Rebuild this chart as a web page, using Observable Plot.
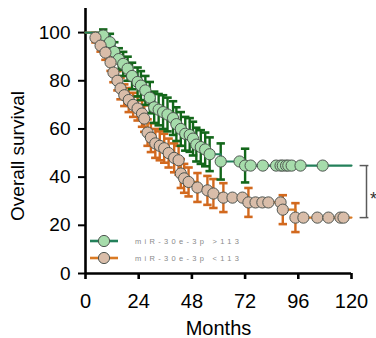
<!DOCTYPE html>
<html>
<head>
<meta charset="utf-8">
<script src="https://cdn.jsdelivr.net/npm/d3@7"></script>
<script src="https://cdn.jsdelivr.net/npm/@observablehq/plot@0.6"></script>
<style>
  html, body { margin: 0; padding: 0; background: #fff; }
  #wrap { position: relative; width: 376px; height: 338px; overflow: hidden; font-family: "Liberation Sans", Arial, sans-serif; }
  #legend { position: absolute; left: 0; top: 0; pointer-events: none; }
</style>
</head>
<body>
<div id="wrap"></div>
<script>
// ---- data ----
const xTicks = [0, 24, 48, 72, 96, 120];
const yTicks = [0, 20, 40, 60, 80, 100];
const seriesNames = ["miR-30e-3p >113", "miR-30e-3p <113"];

// high group (green)
const gMonths = [0, 8, 11, 13, 15, 17, 19, 21, 23.5, 25, 27, 29, 31, 33, 35, 37, 39.5, 41, 43, 45,
                 47, 48.5, 50, 52, 54, 56, 61, 69.5, 72, 74.5, 80, 86, 88, 89, 90.5, 91.5, 93, 97, 107, 120];
const gSurv   = [100, 98.8, 96, 92, 89, 87, 85, 82, 79.5, 78, 76, 73, 69, 68, 67, 66, 64.5, 62, 60, 58,
                 57.5, 56, 53.5, 52.5, 51.5, 49.5, 46.5, 46.5, 44.8, 44.8, 44.8, 44.8, 44.8, 44.8, 44.8, 44.8, 44.8, 44.8, 44.8, 44.8];
const gErr    = [0, 2.5, 3.5, 4, 4.5, 5, 5, 5.5, 6, 6, 6, 6.5, 6.5, 6.5, 7, 7, 7, 7, 7, 7,
                 7, 7, 7, 7, 7, 7, 7.5, 0, 7, 0, 0, 0, 0, 0, 0, 0, 0, 0, 0, 0];

// low group (orange)
const oMonths = [0, 4.5, 6.8, 9, 11.3, 12.6, 14.4, 15.8, 17.5, 19.5, 21.5, 23.5, 25.5, 26.5, 28, 29.5, 31.5, 33.5, 35.5, 37.5,
                 40, 42, 43, 44.5, 46.5, 50.5, 55, 57.7, 62.2, 66.3, 70.8, 73.5, 76.7, 79.8, 82.5, 88, 89, 94.7, 98.3, 104.6,
                 109.6, 115, 116.4, 120];
const oSurv   = [100, 97.9, 94.6, 91.7, 87.6, 83.4, 80, 76.8, 74, 72, 70, 68.5, 66.4, 64.3, 58.5, 56.4, 54, 53, 52, 50,
                 48, 47, 41.5, 39.5, 38, 35.7, 34.5, 33.2, 31.5, 31.5, 31.5, 29.5, 29.5, 29.5, 29.5, 29.5, 26.5, 23.2, 23.2, 23.2,
                 23.2, 23.2, 23.2, 23.2];
const oErr    = [0, 2, 2.5, 3, 3.5, 4, 4, 4.5, 4.5, 5, 5, 5, 5.5, 5.5, 5.5, 6, 6, 6, 6, 6,
                 6, 6, 6, 6, 6, 6, 6, 6, 6, 0, 0, 6, 0, 0, 0, 0, 6, 6, 0, 0,
                 0, 0, 0, 0];

// ---- build tables ----
const toRows = (m, s, e) => m.map((v, i) => ({month: v, surv: s[i], err: e[i], i, n: m.length}));
const green = toRows(gMonths, gSurv, gErr);
const orange = toRows(oMonths, oSurv, oErr);
const markers = rows => rows.filter(d => d.i > 0 && d.i < d.n - 1);
const bars = rows => rows.filter(d => d.err > 0);

const colors = {
  gLine: "#23805a", gBar: "#13671a", gFill: "#a6dcab",
  oLine: "#d97a24", oBar: "#d2691e", oFill: "#d9bda9",
  stroke: "#4e5550"
};

const capSymbol = {
  draw(context, size) {
    const w = Math.sqrt(size / Math.PI);
    context.moveTo(-w, 0);
    context.lineTo(w, 0);
  }
};

const errMarks = (rows, color) => [
  Plot.ruleX(bars(rows), {x: "month", y1: d => d.surv - d.err, y2: d => d.surv + d.err, stroke: color, strokeWidth: 2.4}),
  Plot.dot(bars(rows), {x: "month", y: d => d.surv + d.err, symbol: capSymbol, r: 4.2, stroke: color, strokeWidth: 2.6}),
  Plot.dot(bars(rows), {x: "month", y: d => d.surv - d.err, symbol: capSymbol, r: 4.2, stroke: color, strokeWidth: 2.6})
];

const xEnd = gMonths[gMonths.length - 1];
const gEnd = gSurv[gSurv.length - 1];
const oEnd = oSurv[oSurv.length - 1];
const bracket = [{x: xEnd, top: gEnd, bottom: oEnd}];

const chart = Plot.plot({
  width: 376,
  height: 338,
  marginLeft: 85,
  marginRight: 25,
  marginTop: 8,
  marginBottom: 65,
  style: {fontFamily: "'Liberation Sans', Arial, sans-serif", fontSize: "19px", color: "#000", background: "#fff"},
  x: {domain: [0, 120]},
  y: {domain: [0, 110]},
  marks: [
    // axes
    Plot.axisX({ticks: xTicks, tickSize: 6, tickPadding: 14, strokeWidth: 2.6, fontSize: 20, label: null, tickFormat: d => String(d)}),
    Plot.axisY({ticks: yTicks, tickSize: 7, tickPadding: 8, strokeWidth: 2, fontSize: 19, label: null, tickFormat: d => String(d)}),
    Plot.ruleY([0], {x1: xTicks[0], x2: xTicks[xTicks.length - 1], stroke: "#000", strokeWidth: 2.6}),
    Plot.ruleX([0], {y1: 0, y2: 110, stroke: "#000", strokeWidth: 2.6}),
    // error bars
    ...errMarks(orange, colors.oBar),
    ...errMarks(green, colors.gBar),
    // survival curves
    Plot.line(orange, {x: "month", y: "surv", curve: "step-after", stroke: colors.oLine, strokeWidth: 2.2}),
    Plot.line(green, {x: "month", y: "surv", curve: "step-after", stroke: colors.gLine, strokeWidth: 2.2}),
    // markers
    Plot.dot(markers(green), {x: "month", y: "surv", r: 5.6, fill: colors.gFill, stroke: colors.stroke, strokeWidth: 1}),
    Plot.dot(markers(orange), {x: "month", y: "surv", r: 5.6, fill: colors.oFill, stroke: colors.stroke, strokeWidth: 1}),
    // significance bracket
    Plot.ruleX(bracket, {x: "x", y1: "bottom", y2: "top", dx: 15, stroke: "#5a5a5a", strokeWidth: 1.5}),
    Plot.dot(bracket, {x: "x", y: "top", dx: 12.5, symbol: capSymbol, r: 4.4, stroke: "#5a5a5a", strokeWidth: 1.5}),
    Plot.dot(bracket, {x: "x", y: "bottom", dx: 12.5, symbol: capSymbol, r: 4.4, stroke: "#5a5a5a", strokeWidth: 1.5}),
    Plot.text(bracket, {x: "x", y: d => (d.top + d.bottom) / 2, dx: 22, dy: 8, text: () => "*", fontSize: 18, fill: "#333"}),
    // axis titles
    Plot.text(["Months"], {frameAnchor: "bottom", textAnchor: "middle", lineAnchor: "middle", dy: 55, text: d => d, fontSize: 20}),
    Plot.text(["Overall survival"], {frameAnchor: "left", textAnchor: "middle", lineAnchor: "middle", rotate: -90, dx: -68, dy: 15, text: d => d, fontSize: 19})
  ]
});

const wrap = document.getElementById("wrap");
wrap.appendChild(chart);

// legend overlay (inside the plot area, lower left)
const ns = "http://www.w3.org/2000/svg";
const leg = document.createElementNS(ns, "svg");
leg.setAttribute("id", "legend");
leg.setAttribute("width", 376);
leg.setAttribute("height", 338);
const legendItems = [
  {label: seriesNames[0], line: colors.gLine, fill: colors.gFill},
  {label: seriesNames[1], line: colors.oLine, fill: colors.oFill}
];
legendItems.forEach((it, k) => {
  const cy = 241 + k * 17;
  const ln = document.createElementNS(ns, "line");
  ln.setAttribute("x1", 90); ln.setAttribute("x2", 118);
  ln.setAttribute("y1", cy); ln.setAttribute("y2", cy);
  ln.setAttribute("stroke", it.line); ln.setAttribute("stroke-width", 2.6);
  leg.appendChild(ln);
  const c = document.createElementNS(ns, "circle");
  c.setAttribute("cx", 104); c.setAttribute("cy", cy); c.setAttribute("r", 5.6);
  c.setAttribute("fill", it.fill); c.setAttribute("stroke", colors.stroke); c.setAttribute("stroke-width", 1);
  leg.appendChild(c);
  const t = document.createElementNS(ns, "text");
  t.setAttribute("x", 135); t.setAttribute("y", cy + 2.6);
  t.setAttribute("font-size", 7.5);
  t.setAttribute("letter-spacing", 3.3);
  t.setAttribute("fill", "#8a8a8a");
  t.setAttribute("font-family", "'Liberation Sans', Arial, sans-serif");
  t.textContent = it.label;
  leg.appendChild(t);
});
wrap.appendChild(leg);
</script>
</body>
</html>
